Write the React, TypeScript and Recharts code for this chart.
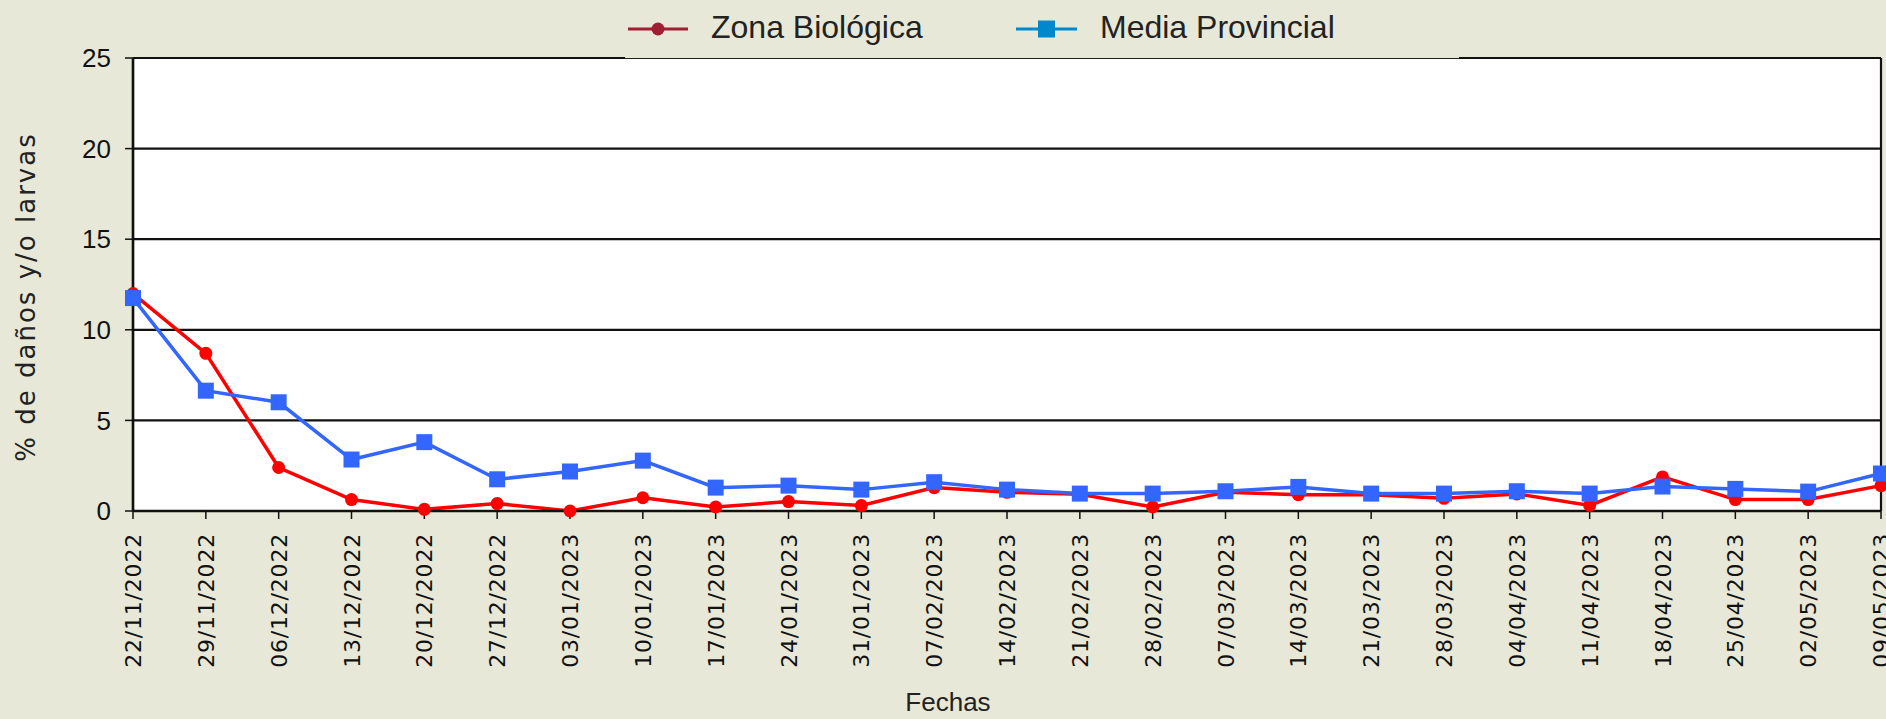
import { LineChart, Line, XAxis, YAxis, CartesianGrid, Legend } from "recharts";

const fechas = [
  "22/11/2022", "29/11/2022", "06/12/2022", "13/12/2022", "20/12/2022",
  "27/12/2022", "03/01/2023", "10/01/2023", "17/01/2023", "24/01/2023",
  "31/01/2023", "07/02/2023", "14/02/2023", "21/02/2023", "28/02/2023",
  "07/03/2023", "14/03/2023", "21/03/2023", "28/03/2023", "04/04/2023",
  "11/04/2023", "18/04/2023", "25/04/2023", "02/05/2023", "09/05/2023",
];

const zonaBiologica = [
  12.0, 8.7, 2.4, 0.63, 0.09, 0.41, 0.0, 0.73, 0.22, 0.52, 0.3, 1.29, 1.03,
  0.92, 0.22, 1.03, 0.9, 0.9, 0.7, 0.94, 0.31, 1.88, 0.63, 0.63, 1.4,
];

const mediaProvincial = [
  11.75, 6.64, 6.0, 2.84, 3.8, 1.75, 2.18, 2.78, 1.29, 1.4, 1.18, 1.59, 1.18,
  0.96, 0.96, 1.09, 1.33, 0.96, 0.96, 1.09, 0.96, 1.35, 1.22, 1.07, 2.07,
];

const yTicks = [0, 5, 10, 15, 20, 25];

const BG = "#E7E8D7";
const RED = "#FF0000";
const BLUE = "#3366FF";

const data = fechas.map((fecha, i) => ({
  fecha,
  zona: zonaBiologica[i],
  media: mediaProvincial[i],
}));

const DateTick = (props: any) => {
  const { x, y, payload } = props;
  return (
    <g transform={`translate(${x},${y})`}>
      <text
        x={-14}
        y={8}
        transform="rotate(-90)"
        textAnchor="end"
        fontFamily="DejaVu Sans"
        fontSize={22}
        letterSpacing={0.8}
        fill="#111"
      >
        {payload.value}
      </text>
    </g>
  );
};

const CircleDot = (props: any) => {
  const { cx, cy, index } = props;
  return <circle key={`c${index}`} cx={cx} cy={cy} r={6.5} fill={RED} />;
};

const SquareDot = (props: any) => {
  const { cx, cy, index } = props;
  return (
    <rect key={`s${index}`} x={cx - 8} y={cy - 8} width={16} height={16} fill={BLUE} />
  );
};

const LegendBox = () => (
  <div
    style={{
      width: 834,
      height: 58,
      background: BG,
      borderBottom: "1px solid #222",
    }}
  >
    <svg width={834} height={58}>
      <line x1={3} x2={63} y1={29} y2={29} stroke="#A01E32" strokeWidth={3} />
      <circle cx={33} cy={29} r={6.5} fill="#A01E32" />
      <text x={86} y={38} fontFamily="Liberation Sans" fontSize={32} fill="#222">
        Zona Biológica
      </text>
      <line x1={391} x2={452} y1={29} y2={29} stroke="#0088CC" strokeWidth={3} />
      <rect x={413} y={20.5} width={17} height={17} fill="#0088CC" />
      <text x={475} y={38} fontFamily="Liberation Sans" fontSize={32} fill="#222">
        Media Provincial
      </text>
    </svg>
  </div>
);

export default function App() {
  return (
    <div
      style={{
        position: "absolute",
        left: 0,
        top: 0,
        width: 1886,
        height: 719,
        background: BG,
      }}
    >
      <LineChart
        width={1886}
        height={719}
        data={data}
        margin={{ top: 58, right: 5, bottom: 28, left: 0 }}
      >
        <CartesianGrid
          stroke="#111"
          strokeWidth={2.2}
          fill="#fff"
          fillOpacity={1}
          verticalCoordinatesGenerator={(p: any) => [
            p.offset.left,
            p.offset.left + p.offset.width,
          ]}
        />
        <XAxis
          dataKey="fecha"
          interval={0}
          height={180}
          tickSize={8}
          tickMargin={0}
          tick={<DateTick />}
          axisLine={{ stroke: "#111", strokeWidth: 2.5 }}
          tickLine={{ stroke: "#111", strokeWidth: 1.5 }}
          label={{
            content: () => (
              <text
                x={948}
                y={711}
                textAnchor="middle"
                fontFamily="Liberation Sans"
                fontSize={26}
                fill="#222"
              >
                Fechas
              </text>
            ),
          }}
        />
        <YAxis
          width={133}
          domain={[0, 25]}
          ticks={yTicks}
          interval={0}
          tickSize={8}
          tickMargin={14}
          tick={{
            fontFamily: "Liberation Sans Narrow, Liberation Sans",
            fontSize: 26,
            fill: "#111",
          }}
          axisLine={{ stroke: "#111", strokeWidth: 2.5 }}
          tickLine={{ stroke: "#111", strokeWidth: 1.5 }}
          label={{
            content: () => (
              <text
                x={26}
                y={297}
                transform="rotate(-90 26 297)"
                textAnchor="middle"
                dominantBaseline="central"
                fontFamily="DejaVu Sans"
                fontSize={26}
                letterSpacing={2}
                fill="#222"
              >
                % de daños y/o larvas
              </text>
            ),
          }}
        />
        <Legend
          layout="horizontal"
          verticalAlign="middle"
          wrapperStyle={{ top: 0, left: 625, width: 834, height: 59 }}
          content={() => <LegendBox />}
        />
        <Line
          type="linear"
          dataKey="zona"
          name="Zona Biológica"
          stroke={RED}
          strokeWidth={3.5}
          dot={CircleDot}
          activeDot={false}
          isAnimationActive={false}
        />
        <Line
          type="linear"
          dataKey="media"
          name="Media Provincial"
          stroke={BLUE}
          strokeWidth={3.5}
          dot={SquareDot}
          activeDot={false}
          isAnimationActive={false}
        />
      </LineChart>
    </div>
  );
}
